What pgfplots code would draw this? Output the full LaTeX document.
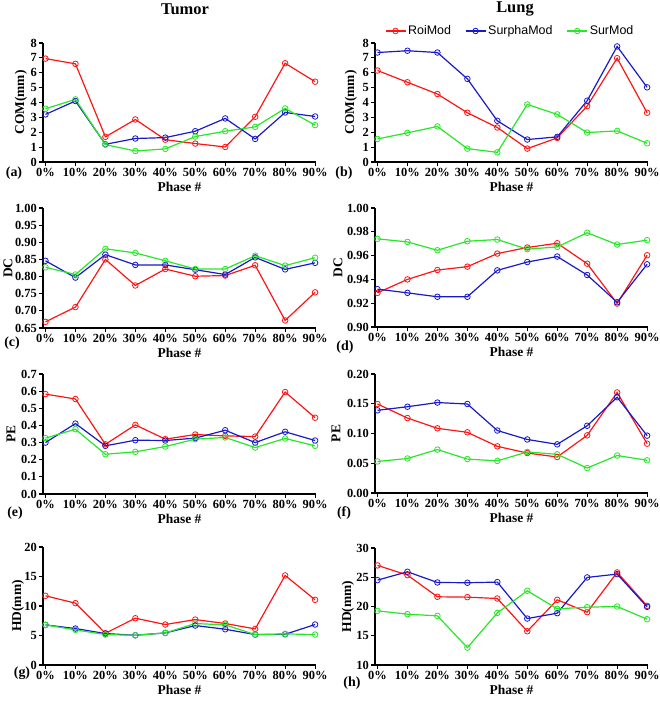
\documentclass[border=0pt]{standalone}
\usepackage{fontspec}
\setmainfont{Liberation Serif}
\newfontfamily\legendfont{Liberation Sans}
\usepackage{pgfplots}
\pgfplotsset{compat=1.18}
\definecolor{cred}{RGB}{255,20,20}
\definecolor{cblue}{RGB}{25,25,200}
\definecolor{cgreen}{RGB}{40,230,40}

\pgfplotsset{
  every non boxed x axis/.style={},
  every non boxed y axis/.style={},
  panel/.style={
    scale only axis, width=273bp,
    axis x line*=bottom, axis y line*=left,
    axis line style={line width=1.3pt,-},
    xmin=-0.083, xmax=9.03,
    xtick={0,...,9},
    xticklabels={0\%,10\%,20\%,30\%,40\%,50\%,60\%,70\%,80\%,90\%},
    tick align=outside,
    major tick length=4bp,
    tick style={black, line width=1.2pt},
    minor tick num=0,
    /pgf/number format/assume math mode=true,
    tick label style={font=\bfseries\fontsize{12.5}{13}\selectfont},
    xticklabel style={inner sep=2bp},
    yticklabel style={inner sep=2bp},
    label style={font=\bfseries\fontsize{13.5}{14}\selectfont},
    xlabel={Phase \#},
    clip=false,
  },
  ylab/.style={ylabel style={at={(axis description cs:#1,0.5)}, anchor=center}},
  roi/.style={color=cred, mark=o, line width=1.2pt, mark size=2.8bp, mark options={line width=0.8pt}},
  sph/.style={color=cblue, mark=o, line width=1.2pt, mark size=2.8bp, mark options={line width=0.8pt}},
  sur/.style={color=cgreen, mark=o, line width=1.2pt, mark size=2.8bp, mark options={line width=0.8pt}},
}
\newcommand{\plab}[3]{\node[font=\bfseries\fontsize{14}{14}\selectfont, xshift=#1, yshift=#2] at (rel axis cs:0,0) {#3};}

\begin{document}
\begin{tikzpicture}
\useasboundingbox (0,0) rectangle (660bp,-701bp);

% (a) Tumor COM
\begin{axis}[panel, height=119bp, at={(43bp,-162bp)}, anchor=south west,
  ymin=0, ymax=8, ytick={0,...,8}, ylabel={COM(mm)}, ylab=-0.0806]
\addplot[roi] coordinates {(0,6.95) (1,6.6) (2,1.69) (3,2.86) (4,1.5) (5,1.24) (6,1.01) (7,3.04) (8,6.64) (9,5.4)};
\addplot[sph] coordinates {(0,3.2) (1,4.1) (2,1.19) (3,1.58) (4,1.64) (5,2.07) (6,2.93) (7,1.55) (8,3.33) (9,3.06)};
\addplot[sur] coordinates {(0,3.58) (1,4.21) (2,1.17) (3,0.74) (4,0.88) (5,1.71) (6,2.07) (7,2.36) (8,3.6) (9,2.48)};
\plab{-29bp}{-11bp}{(a)}
\node[font=\bfseries\fontsize{16.5}{16}\selectfont, xshift=142bp, yshift=34bp] at (rel axis cs:0,1) {Tumor};
\end{axis}

% (b) Lung COM
\begin{axis}[panel, height=119bp, at={(375bp,-162bp)}, anchor=south west,
  ymin=0, ymax=8, ytick={0,...,8}, ylabel={COM(mm)}, ylab=-0.0879,
  legend columns=3,
  legend style={draw=none, fill=none, at={(0.495,1)}, anchor=center, yshift=12bp,
    font=\legendfont\fontsize{12.5}{13}\selectfont,
    /tikz/every even column/.append style={column sep=12bp}},
  legend image code/.code={\draw[mark repeat=2,mark phase=2] plot coordinates {(0bp,0bp) (10bp,0bp) (20bp,0bp)};}]
\addplot[roi] coordinates {(0,6.15) (1,5.36) (2,4.57) (3,3.31) (4,2.32) (5,0.9) (6,1.62) (7,3.76) (8,6.98) (9,3.31)};
\addplot[sph] coordinates {(0,7.36) (1,7.48) (2,7.36) (3,5.59) (4,2.77) (5,1.51) (6,1.69) (7,4.12) (8,7.77) (9,5.02)};
\addplot[sur] coordinates {(0,1.55) (1,1.96) (2,2.39) (3,0.9) (4,0.65) (5,3.87) (6,3.2) (7,1.98) (8,2.09) (9,1.26)};
\legend{RoiMod,SurphaMod,SurMod}
\plab{-31bp}{-11bp}{(b)}
\node[font=\bfseries\fontsize{16.5}{16}\selectfont, xshift=140bp, yshift=34bp] at (rel axis cs:0,1) {Lung};
\end{axis}

% (c) Tumor DC
\begin{axis}[panel, height=120bp, at={(43bp,-328bp)}, anchor=south west,
  ymin=0.65, ymax=1.0, ytick={0.65,0.70,...,1.001}, ylabel={DC}, ylab=-0.1282,
  yticklabel style={/pgf/number format/.cd, fixed, fixed zerofill, precision=2}]
\addplot[roi] coordinates {(0,0.668) (1,0.711) (2,0.85) (3,0.774) (4,0.822) (5,0.801) (6,0.803) (7,0.833) (8,0.672) (9,0.754)};
\addplot[sph] coordinates {(0,0.846) (1,0.797) (2,0.864) (3,0.834) (4,0.834) (5,0.82) (6,0.806) (7,0.856) (8,0.821) (9,0.84)};
\addplot[sur] coordinates {(0,0.827) (1,0.806) (2,0.881) (3,0.869) (4,0.846) (5,0.822) (6,0.822) (7,0.861) (8,0.832) (9,0.855)};
\plab{-31bp}{-15bp}{(c)}
\end{axis}

% (d) Lung DC
\begin{axis}[panel, height=119bp, at={(375bp,-327bp)}, anchor=south west,
  ymin=0.90, ymax=1.0, ytick={0.90,0.92,...,1.001}, ylabel={DC}, ylab=-0.1355,
  yticklabel style={/pgf/number format/.cd, fixed, fixed zerofill, precision=2}]
\addplot[roi] coordinates {(0,0.9287) (1,0.940) (2,0.9479) (3,0.9507) (4,0.9617) (5,0.9668) (6,0.9704) (7,0.9532) (8,0.9197) (9,0.9603)};
\addplot[sph] coordinates {(0,0.9318) (1,0.9287) (2,0.9254) (3,0.9254) (4,0.9476) (5,0.9546) (6,0.9592) (7,0.9437) (8,0.9208) (9,0.9527)};
\addplot[sur] coordinates {(0,0.9741) (1,0.9715) (2,0.9645) (3,0.9721) (4,0.9735) (5,0.9654) (6,0.9673) (7,0.9792) (8,0.9693) (9,0.973)};
\plab{-30bp}{-20bp}{(d)}
\end{axis}

% (e) Tumor PE
\begin{axis}[panel, height=120bp, at={(43bp,-494bp)}, anchor=south west,
  ymin=0, ymax=0.7, ytick={0,0.1,...,0.701}, ylabel={PE}, ylab=-0.1172,
  yticklabel style={/pgf/number format/.cd, fixed, fixed zerofill, precision=1}]
\addplot[roi] coordinates {(0,0.583) (1,0.554) (2,0.29) (3,0.403) (4,0.32) (5,0.347) (6,0.339) (7,0.335) (8,0.595) (9,0.445)};
\addplot[sph] coordinates {(0,0.30) (1,0.411) (2,0.281) (3,0.314) (4,0.312) (5,0.326) (6,0.372) (7,0.30) (8,0.363) (9,0.312)};
\addplot[sur] coordinates {(0,0.326) (1,0.378) (2,0.232) (3,0.246) (4,0.277) (5,0.32) (6,0.33) (7,0.271) (8,0.324) (9,0.281)};
\plab{-28bp}{-19bp}{(e)}
\end{axis}

% (f) Lung PE
\begin{axis}[panel, height=119bp, at={(375bp,-493bp)}, anchor=south west,
  ymin=0, ymax=0.2, ytick={0,0.05,...,0.201}, ylabel={PE}, ylab=-0.1429,
  yticklabel style={/pgf/number format/.cd, fixed, fixed zerofill, precision=2}]
\addplot[roi] coordinates {(0,0.1496) (1,0.126) (2,0.1087) (3,0.102) (4,0.0784) (5,0.0672) (6,0.0605) (7,0.0969) (8,0.169) (9,0.0829)};
\addplot[sph] coordinates {(0,0.139) (1,0.145) (2,0.152) (3,0.1496) (4,0.105) (5,0.090) (6,0.0818) (7,0.113) (8,0.161) (9,0.0964)};
\addplot[sur] coordinates {(0,0.053) (1,0.058) (2,0.073) (3,0.057) (4,0.054) (5,0.069) (6,0.065) (7,0.042) (8,0.063) (9,0.055)};
\plab{-31bp}{-20bp}{(f)}
\end{axis}

% (g) Tumor HD
\begin{axis}[panel, height=118bp, at={(43bp,-665bp)}, anchor=south west,
  ymin=0, ymax=20, ytick={0,5,...,20}, ylabel={HD(mm)}, ylab=-0.0916]
\addplot[roi] coordinates {(0,11.73) (1,10.48) (2,5.38) (3,7.93) (4,6.86) (5,7.7) (6,7.03) (7,6.12) (8,15.18) (9,11.05)};
\addplot[sph] coordinates {(0,6.8) (1,6.18) (2,5.33) (3,5.04) (4,5.44) (5,6.69) (6,6.06) (7,5.16) (8,5.21) (9,6.86)};
\addplot[sur] coordinates {(0,6.8) (1,5.95) (2,5.16) (3,5.04) (4,5.44) (5,7.03) (6,6.8) (7,5.16) (8,5.27) (9,5.16)};
\plab{-21bp}{-8bp}{(g)}
\end{axis}

% (h) Lung HD
\begin{axis}[panel, height=117bp, at={(375bp,-665bp)}, anchor=south west,
  ymin=10, ymax=30, ytick={10,15,...,30}, ylabel={HD(mm)}, ylab=-0.0989]
\addplot[roi] coordinates {(0,27.03) (1,25.37) (2,21.66) (3,21.6) (4,21.37) (5,15.77) (6,21.14) (7,19.03) (8,25.83) (9,20.11)};
\addplot[sph] coordinates {(0,24.51) (1,25.94) (2,24.11) (3,24.06) (4,24.17) (5,17.94) (6,18.86) (7,24.97) (8,25.54) (9,19.94)};
\addplot[sur] coordinates {(0,19.26) (1,18.69) (2,18.4) (3,12.97) (4,18.91) (5,22.69) (6,19.6) (7,19.89) (8,20.0) (9,17.83)};
\plab{-23bp}{-18bp}{(h)}
\end{axis}
\end{tikzpicture}
\end{document}
